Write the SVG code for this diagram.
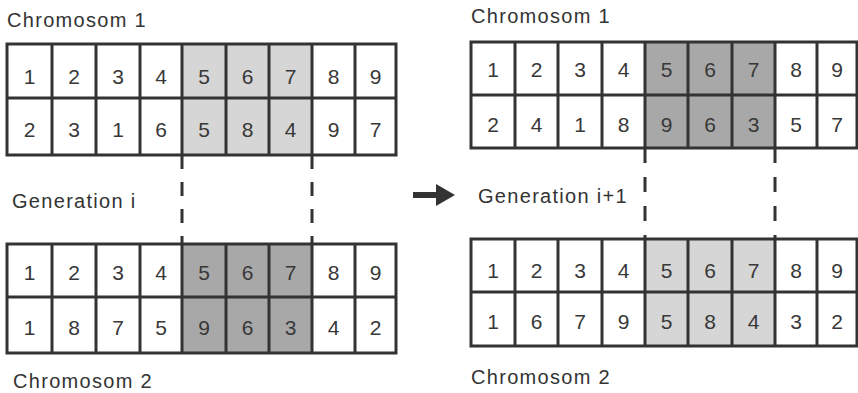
<svg xmlns="http://www.w3.org/2000/svg" width="858" height="393" viewBox="0 0 858 393">
  <style>
    .bg { fill: #ffffff; }
    .light { fill: #d6d6d6; }
    .dark { fill: #a8a8a8; }
    .grid { fill: none; stroke: #333333; stroke-width: 3; }
    .num { font-family: "Liberation Sans", Arial, sans-serif; font-size: 21px; fill: #383838; text-anchor: middle; }
    .label { font-family: "Liberation Sans", Arial, sans-serif; font-size: 20px; letter-spacing: 1.3px; fill: #333333; }
    .dash { stroke: #333333; stroke-width: 3; fill: none; }
  </style>
  <rect class="bg" x="0" y="0" width="858" height="393"/>

  <!-- Labels -->
  <g id="label-gen-i">
    <text class="label" x="7" y="27">Chromosom 1</text>
    <text class="label" x="12" y="208">Generation i</text>
    <text class="label" x="13" y="388">Chromosom 2</text>
  </g>
  <g id="label-gen-i1">
    <text class="label" x="471" y="23">Chromosom 1</text>
    <text class="label" x="478" y="203">Generation i+1</text>
    <text class="label" x="471" y="384">Chromosom 2</text>
  </g>

  <!-- Generation i, chromosome 1 -->
  <g id="gen-i-chrom1">
    <rect class="light" x="182" y="44" width="130" height="111"/>
    <path class="grid" d="M7,44H396V155H7Z M7,98H396 M52,44V155 M96,44V155 M140,44V155 M182,44V155 M226,44V155 M269,44V155 M312,44V155 M355,44V155"/>
    <g class="num">
      <text x="29.5" y="83.5">1</text><text x="74" y="83.5">2</text><text x="118" y="83.5">3</text>
      <text x="161" y="83.5">4</text><text x="204" y="83.5">5</text><text x="247.5" y="83.5">6</text>
      <text x="290.5" y="83.5">7</text><text x="333.5" y="83.5">8</text><text x="375.5" y="83.5">9</text>
      <text x="29.5" y="137">2</text><text x="74" y="137">3</text><text x="118" y="137">1</text>
      <text x="161" y="137">6</text><text x="204" y="137">5</text><text x="247.5" y="137">8</text>
      <text x="290.5" y="137">4</text><text x="333.5" y="137">9</text><text x="375.5" y="137">7</text>
    </g>
  </g>

  <!-- Generation i, chromosome 2 -->
  <g id="gen-i-chrom2">
    <rect class="dark" x="182" y="244" width="130" height="109"/>
    <path class="grid" d="M7,244H396V353H7Z M7,297H396 M52,244V353 M96,244V353 M140,244V353 M182,244V353 M226,244V353 M269,244V353 M312,244V353 M355,244V353"/>
    <g class="num">
      <text x="29.5" y="280">1</text><text x="74" y="280">2</text><text x="118" y="280">3</text>
      <text x="161" y="280">4</text><text x="204" y="280">5</text><text x="247.5" y="280">6</text>
      <text x="290.5" y="280">7</text><text x="333.5" y="280">8</text><text x="375.5" y="280">9</text>
      <text x="29.5" y="335">1</text><text x="74" y="335">8</text><text x="118" y="335">7</text>
      <text x="161" y="335">5</text><text x="204" y="335">9</text><text x="247.5" y="335">6</text>
      <text x="290.5" y="335">3</text><text x="333.5" y="335">4</text><text x="375.5" y="335">2</text>
    </g>
  </g>

  <!-- Generation i+1, chromosome 1 -->
  <g id="gen-i1-chrom1">
    <rect class="dark" x="645" y="42" width="130" height="106"/>
    <path class="grid" d="M471,42H857V148H471Z M471,95H857 M515,42V148 M558,42V148 M602,42V148 M645,42V148 M688,42V148 M732,42V148 M775,42V148 M817,42V148"/>
    <g class="num">
      <text x="493" y="77">1</text><text x="536.5" y="77">2</text><text x="580" y="77">3</text>
      <text x="623.5" y="77">4</text><text x="666.5" y="77">5</text><text x="710" y="77">6</text>
      <text x="753.5" y="77">7</text><text x="796" y="77">8</text><text x="837" y="77">9</text>
      <text x="493" y="132">2</text><text x="536.5" y="132">4</text><text x="580" y="132">1</text>
      <text x="623.5" y="132">8</text><text x="666.5" y="132">9</text><text x="710" y="132">6</text>
      <text x="753.5" y="132">3</text><text x="796" y="132">5</text><text x="837" y="132">7</text>
    </g>
  </g>

  <!-- Generation i+1, chromosome 2 -->
  <g id="gen-i1-chrom2">
    <rect class="light" x="645" y="239" width="130" height="107"/>
    <path class="grid" d="M471,239H857V346H471Z M471,292H857 M515,239V346 M558,239V346 M602,239V346 M645,239V346 M688,239V346 M732,239V346 M775,239V346 M817,239V346"/>
    <g class="num">
      <text x="493" y="277.5">1</text><text x="536.5" y="277.5">2</text><text x="580" y="277.5">3</text>
      <text x="623.5" y="277.5">4</text><text x="666.5" y="277.5">5</text><text x="710" y="277.5">6</text>
      <text x="753.5" y="277.5">7</text><text x="796" y="277.5">8</text><text x="837" y="277.5">9</text>
      <text x="493" y="328.5">1</text><text x="536.5" y="328.5">6</text><text x="580" y="328.5">7</text>
      <text x="623.5" y="328.5">9</text><text x="666.5" y="328.5">5</text><text x="710" y="328.5">8</text>
      <text x="753.5" y="328.5">4</text><text x="796" y="328.5">3</text><text x="837" y="328.5">2</text>
    </g>
  </g>

  <!-- Crossover cut markers and the transition arrow -->
  <g id="connectors">
    <line class="dash" x1="182" y1="155" x2="182" y2="244" stroke-dasharray="14 13"/>
    <line class="dash" x1="312" y1="155" x2="312" y2="244" stroke-dasharray="14 13"/>
    <line class="dash" x1="645" y1="148" x2="645" y2="239" stroke-dasharray="15 14"/>
    <line class="dash" x1="775" y1="148" x2="775" y2="239" stroke-dasharray="15 14"/>
    <line x1="413" y1="195" x2="440" y2="195" stroke="#333333" stroke-width="6"/>
    <polygon points="436,184 455,195 436,206" fill="#333333"/>
  </g>
</svg>
